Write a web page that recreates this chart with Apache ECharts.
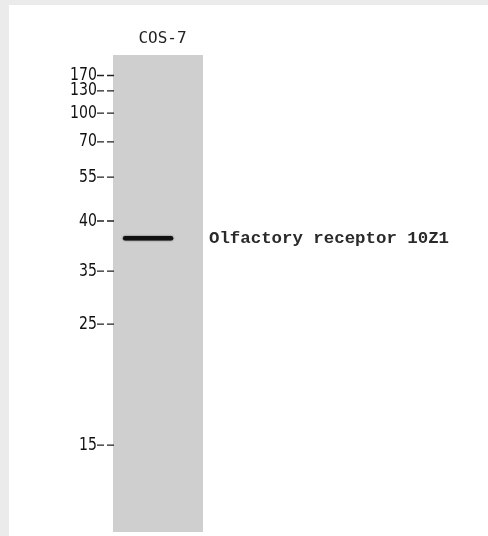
<!DOCTYPE html>
<html>
<head>
<meta charset="utf-8">
<script src="https://cdn.jsdelivr.net/npm/echarts@6/dist/echarts.min.js"></script>
<style>
  html, body { margin: 0; padding: 0; width: 488px; height: 536px; background: #ebebeb; overflow: hidden; }
  #panel { position: absolute; left: 9px; top: 5px; width: 479px; height: 531px; background: #ffffff; }
  #chart { position: absolute; left: 0; top: 0; width: 488px; height: 536px; }
</style>
</head>
<body>
<div id="panel"></div>
<div id="chart"></div>
<script>
// Lane / sample name
const laneNames = ['COS-7'];
// Molecular-weight marker labels (kDa) and their migration positions (% of lane length from top)
const markerLabels = ['170', '130', '100', '70', '55', '40', '35', '25', '15'];
const markerPositions = [4.3, 7.5, 12.2, 18.2, 25.6, 34.8, 45.3, 56.4, 81.8];
// Detected band: name, migration position (% of lane), horizontal extent within lane (fraction of lane width)
const bandNames = ['Olfactory receptor 10Z1'];
const bandPositions = [38.4];
const bandStart = [0.135];
const bandEnd = [0.645];

const chart = echarts.init(document.getElementById('chart'), null, { renderer: 'canvas' });

const bandData = [];
bandPositions.forEach((p, i) => {
  bandData.push([bandStart[i], p]);
  bandData.push([bandEnd[i], p]);
});

const option = {
  backgroundColor: 'transparent',
  animation: false,
  grid: {
    left: 113, top: 55, width: 90, height: 477,
    show: true, backgroundColor: '#cfcfcf', borderWidth: 0
  },
  xAxis: {
    type: 'value', min: 0, max: 1, position: 'top',
    axisLine: { show: false }, axisTick: { show: false }, axisLabel: { show: false }, splitLine: { show: false },
    name: laneNames[0], nameLocation: 'middle', nameGap: 8,
    nameTextStyle: { fontFamily: 'DejaVu Sans Mono', fontSize: 16, color: '#222', padding: [0, 0, 0, 9] }
  },
  yAxis: {
    type: 'value', min: 0, max: 100, inverse: true,
    axisLine: { show: false }, axisTick: { show: false }, axisLabel: { show: false }, splitLine: { show: false }
  },
  series: [
    {
      type: 'line',
      data: bandData,
      symbol: 'none',
      lineStyle: { color: '#111', width: 4.5, cap: 'round', shadowBlur: 2, shadowColor: 'rgba(0,0,0,0.6)' },
      silent: true
    },
    {
      type: 'custom',
      clip: false,
      data: markerPositions.map(p => [0, p]),
      encode: { x: 0, y: 1 },
      renderItem: function (params, api) {
        const p = api.coord([0, api.value(1)]);
        return {
          type: 'group',
          children: [
            { type: 'line', shape: { x1: p[0] - 16, y1: p[1], x2: p[0] + 3, y2: p[1] },
              style: { stroke: '#222', lineWidth: 1.3, lineDash: [7, 3] } },
            { type: 'text', x: p[0] - 16, y: p[1], scaleX: 0.87,
              style: { text: markerLabels[params.dataIndex], align: 'right', verticalAlign: 'middle',
                       font: '18px "DejaVu Sans Condensed", "DejaVu Sans", sans-serif', fill: '#111' } }
          ]
        };
      }
    },
    {
      type: 'custom',
      clip: false,
      data: bandPositions.map(p => [1, p]),
      encode: { x: 0, y: 1 },
      renderItem: function (params, api) {
        const p = api.coord([1, api.value(1)]);
        return {
          type: 'text', x: p[0] + 6, y: p[1],
          style: { text: bandNames[params.dataIndex], align: 'left', verticalAlign: 'middle',
                   font: 'bold 17.4px "Liberation Mono", "DejaVu Sans Mono", monospace', fill: '#2a2a2a' }
        };
      }
    }
  ]
};
chart.setOption(option);
</script>
</body>
</html>
